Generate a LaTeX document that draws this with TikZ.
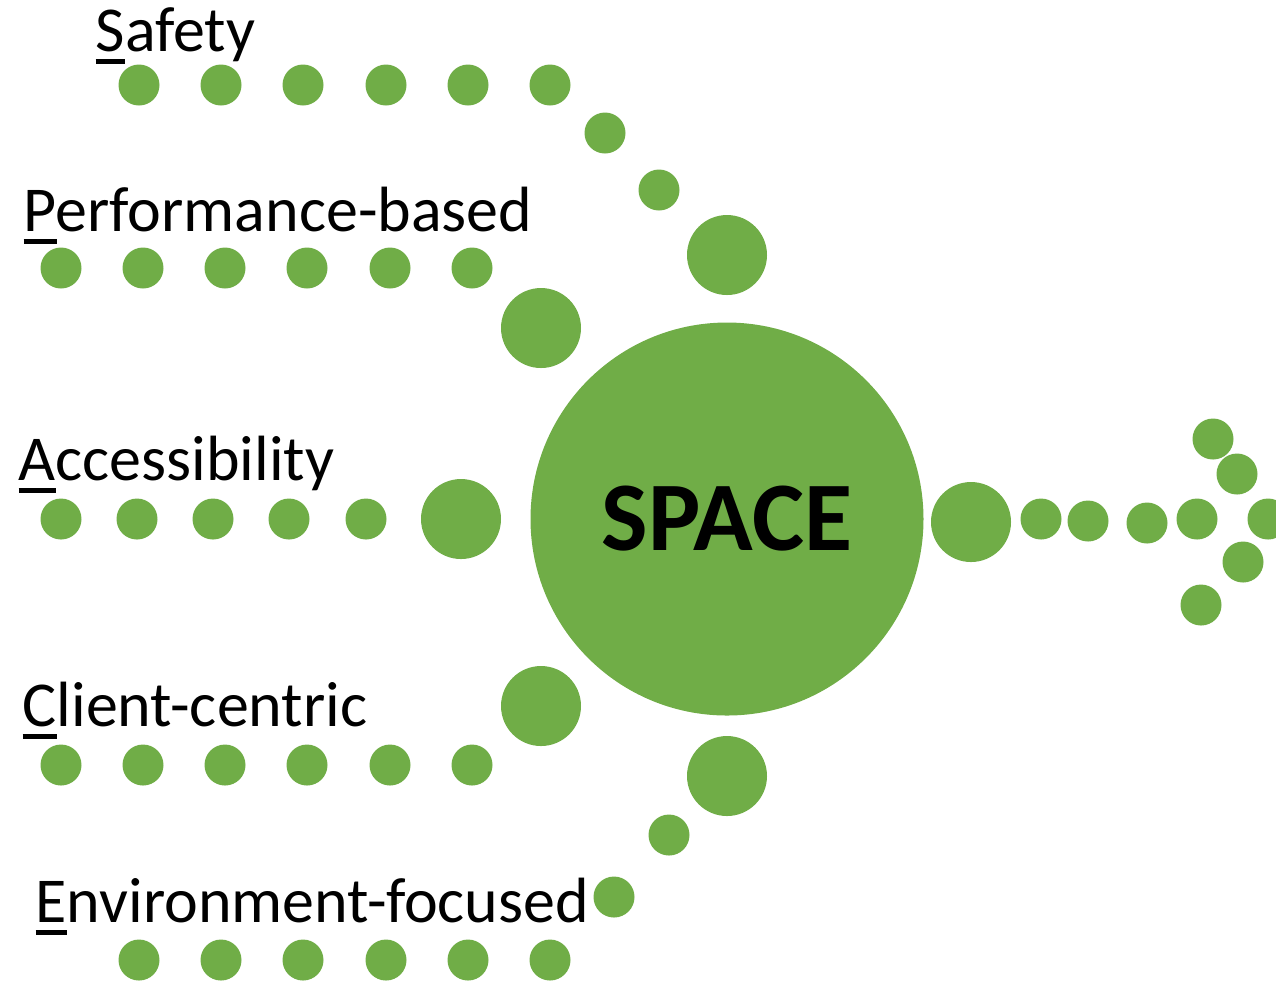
\documentclass[tikz,border=0pt]{standalone}
\usepackage{fontspec}
\setmainfont{Carlito}
\usepackage{tikz}
\usepackage{xcolor}

\definecolor{spacegreen}{HTML}{70AD47}
\newcommand{\firstul}[1]{\setbox0\hbox{#1}\rlap{\rule[-3.7pt]{\wd0}{1.4pt}}#1}

\begin{document}
\begin{tikzpicture}[
  smalldot/.style={circle, fill=spacegreen, inner sep=0pt, minimum size=0.41cm},
  bigdot/.style={circle, fill=spacegreen, inner sep=0pt, minimum size=0.8cm},
  hub/.style={circle, fill=spacegreen, inner sep=0pt, minimum size=3.93cm, font=\fontsize{28}{30}\selectfont\bfseries},
  pillar/.style={anchor=base west, inner sep=0pt, font=\fontsize{18.2}{21}\selectfont}
]

\useasboundingbox (0, 0) rectangle (12.76, -9.8);

\node[hub] (space) at (7.27, -5.19) {SPACE};

% S
\node[pillar] (safety) at (0.95, -0.51) {\firstul{S}afety};
\node[smalldot] (safety a) at (1.39, -0.85) {};
\node[smalldot] (safety b) at (2.21, -0.85) {};
\node[smalldot] (safety c) at (3.03, -0.85) {};
\node[smalldot] (safety d) at (3.86, -0.85) {};
\node[smalldot] (safety e) at (4.68, -0.85) {};
\node[smalldot] (safety f) at (5.50, -0.85) {};
\node[smalldot] (safety g) at (6.05, -1.33) {};
\node[smalldot] (safety h) at (6.59, -1.90) {};
\node[bigdot] (safety i) at (7.27, -2.55) {};

% P
\node[pillar] (perf) at (0.23, -2.31) {\firstul{P}erformance-based};
\node[smalldot] (perf a) at (0.61, -2.68) {};
\node[smalldot] (perf b) at (1.43, -2.68) {};
\node[smalldot] (perf c) at (2.25, -2.68) {};
\node[smalldot] (perf d) at (3.07, -2.68) {};
\node[smalldot] (perf e) at (3.90, -2.68) {};
\node[smalldot] (perf f) at (4.72, -2.68) {};
\node[bigdot] (perf g) at (5.41, -3.28) {};

% A
\node[pillar] (access) at (0.18, -4.80) {\firstul{A}ccessibility};
\node[smalldot] (access a) at (0.61, -5.19) {};
\node[smalldot] (access b) at (1.37, -5.19) {};
\node[smalldot] (access c) at (2.13, -5.19) {};
\node[smalldot] (access d) at (2.89, -5.19) {};
\node[smalldot] (access e) at (3.66, -5.19) {};
\node[bigdot] (access f) at (4.61, -5.19) {};

% C
\node[pillar] (client) at (0.22, -7.26) {\firstul{C}lient-centric};
\node[smalldot] (client a) at (0.61, -7.65) {};
\node[smalldot] (client b) at (1.43, -7.65) {};
\node[smalldot] (client c) at (2.25, -7.65) {};
\node[smalldot] (client d) at (3.07, -7.65) {};
\node[smalldot] (client e) at (3.90, -7.65) {};
\node[smalldot] (client f) at (4.72, -7.65) {};
\node[bigdot] (client g) at (5.41, -7.06) {};

% E
\node[pillar] (env) at (0.35, -9.22) {\firstul{E}nvironment-focused};
\node[smalldot] (env a) at (1.39, -9.60) {};
\node[smalldot] (env b) at (2.21, -9.60) {};
\node[smalldot] (env c) at (3.03, -9.60) {};
\node[smalldot] (env d) at (3.86, -9.60) {};
\node[smalldot] (env e) at (4.68, -9.60) {};
\node[smalldot] (env f) at (5.50, -9.60) {};
\node[smalldot] (env g) at (6.14, -8.97) {};
\node[smalldot] (env h) at (6.69, -8.35) {};
\node[bigdot] (env i) at (7.27, -7.76) {};

% arrow out of the hub
\node[bigdot] (out a) at (9.71, -5.22) {};
\node[smalldot] (out b) at (10.41, -5.19) {};
\node[smalldot] (out c) at (10.88, -5.21) {};
\node[smalldot] (out d) at (11.47, -5.23) {};
\node[smalldot] (out e) at (11.97, -5.19) {};
\node[smalldot] (out f) at (12.68, -5.19) {};
\node[smalldot] (head a) at (12.13, -4.39) {};
\node[smalldot] (head b) at (12.37, -4.74) {};
\node[smalldot] (head c) at (12.43, -5.62) {};
\node[smalldot] (head d) at (12.01, -6.05) {};

\end{tikzpicture}
\end{document}
